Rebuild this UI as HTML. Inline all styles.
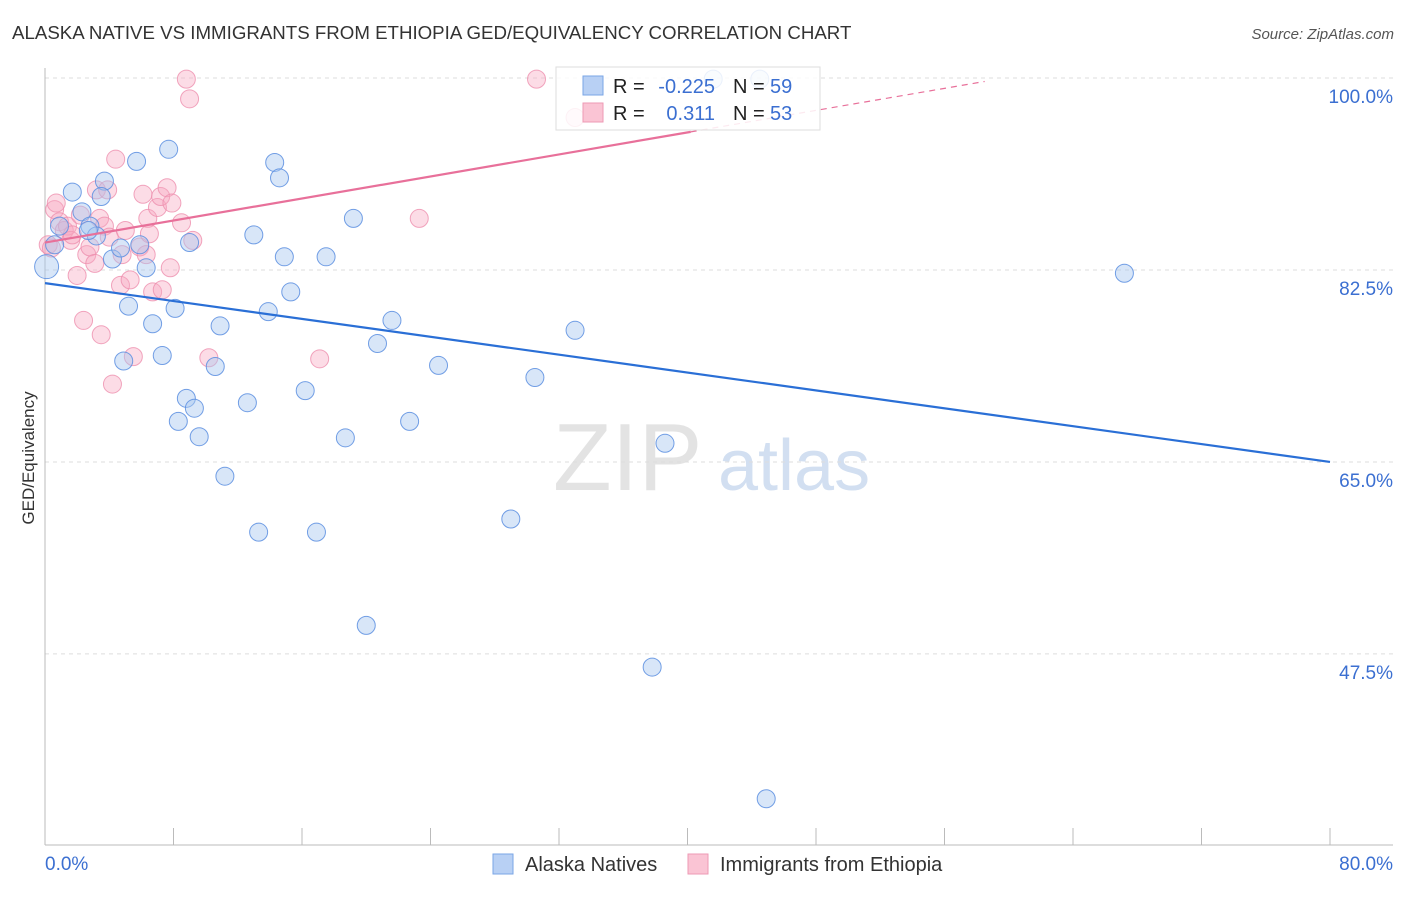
<!DOCTYPE html>
<html><head><meta charset="utf-8"><style>
body{margin:0;background:#fff;font-family:"Liberation Sans",sans-serif;}
svg text{font-family:"Liberation Sans",sans-serif;}
</style></head><body>
<svg id="chart" width="1406" height="892" xmlns="http://www.w3.org/2000/svg">
<text x="12" y="39" font-size="18.7" fill="#333">ALASKA NATIVE VS IMMIGRANTS FROM ETHIOPIA GED/EQUIVALENCY CORRELATION CHART</text>
<text x="1394" y="39" font-size="15" fill="#555" font-style="italic" text-anchor="end">Source: ZipAtlas.com</text>
<text transform="translate(34,458) rotate(-90)" font-size="17" fill="#333" text-anchor="middle">GED/Equivalency</text>
<g>
<text x="553" y="490" font-size="96" fill="#ddd" font-family="Liberation Serif" opacity="0.8">ZIP</text>
<text x="718" y="490" font-size="72" fill="#c8d8ee" opacity="0.8">atlas</text>
</g>
<g id="grid"></g><g id="axes"></g><g id="pts"></g><g id="trend"></g>
<g>
<rect x="556" y="67" width="264" height="63" fill="#fff" fill-opacity="0.85" stroke="#ddd"/>
<rect x="583" y="76" width="20" height="19" fill="#b8d0f4" stroke="#7aa6e6"/>
<rect x="583" y="103" width="20" height="19" fill="#fac4d4" stroke="#ee9ab4"/>
<text x="613" y="93" font-size="20" fill="#222">R = </text><text x="715" y="93" font-size="20" fill="#3b6fd1" text-anchor="end">-0.225</text>
<text x="733" y="93" font-size="20" fill="#222">N = </text><text x="770" y="93" font-size="20" fill="#3b6fd1">59</text>
<text x="613" y="120" font-size="20" fill="#222">R = </text><text x="715" y="120" font-size="20" fill="#3b6fd1" text-anchor="end">0.311</text>
<text x="733" y="120" font-size="20" fill="#222">N = </text><text x="770" y="120" font-size="20" fill="#3b6fd1">53</text>
</g>
<g>
<rect x="493" y="854" width="20" height="20" fill="#b8d0f4" stroke="#7aa6e6"/>
<text x="525" y="871" font-size="20" fill="#333">Alaska Natives</text>
<rect x="688" y="854" width="20" height="20" fill="#fac4d4" stroke="#ee9ab4"/>
<text x="720" y="871" font-size="20" fill="#333">Immigrants from Ethiopia</text>
</g>
</svg>
<script>
const blueX=[0.1,0.6,1.7,0.9,2.3,2.8,3.2,3.7,3.5,2.7,4.2,4.7,4.9,5.2,5.7,5.9,6.3,6.7,7.3,7.7,8.1,8.3,8.8,9.0,9.3,9.6,10.6,10.9,11.2,12.6,13.0,13.3,13.9,14.3,14.6,14.9,15.3,16.2,16.9,17.5,18.7,19.2,20.0,20.7,21.6,22.7,24.5,29.0,30.5,33.0,37.8,38.6,41.6,44.5,44.9,67.2];
const blueY=[82.8,84.8,89.6,86.5,87.8,86.5,85.6,90.6,89.2,86.1,83.5,84.5,74.2,79.2,92.4,84.8,82.7,77.6,74.7,93.5,79.0,68.7,70.8,85.0,69.9,67.3,73.7,77.4,63.7,70.4,85.7,58.6,78.7,92.3,90.9,83.7,80.5,71.5,58.6,83.7,67.2,87.2,50.1,75.8,77.9,68.7,73.8,59.8,72.7,77.0,46.3,66.7,99.9,99.9,34.3,82.2];
const pinkX=[0.2,0.4,0.6,0.7,0.9,1.2,1.4,1.6,1.7,2.0,2.2,2.4,2.6,2.8,3.1,3.2,3.4,3.5,3.7,3.9,4.0,4.2,4.4,4.7,4.8,5.0,5.3,5.5,5.9,6.1,6.3,6.4,6.5,6.7,7.0,7.2,7.3,7.6,7.8,7.9,8.5,8.8,9.0,9.2,10.2,17.1,23.3,30.6,33.0];
const pinkY=[84.8,84.5,88.0,88.6,86.9,86.1,86.5,85.2,85.7,82.0,87.5,77.9,83.9,84.6,83.1,89.8,87.2,76.6,86.5,89.8,85.5,72.1,92.6,81.1,83.9,86.1,81.6,74.6,84.6,89.4,83.9,87.2,85.8,80.5,88.2,89.2,80.7,90.0,82.7,88.6,86.8,99.9,98.1,85.2,74.5,74.4,87.2,99.9,96.4];
const blueTrend=[81.3,65.0];
const pinkTrend=[85.0,0.251];
const yTicks=[100,82.5,65,47.5];
const yTickLabels=["100.0%","82.5%","65.0%","47.5%"];
const NS="http://www.w3.org/2000/svg";
function sx(v){return 45+v/80*1285;}
function sy(v){return 78+(100-v)*10.97;}
function mk(t,a,p){const e=document.createElementNS(NS,t);for(const k in a)e.setAttribute(k,a[k]);p.appendChild(e);return e;}
const grid=document.getElementById('grid'),axes=document.getElementById('axes');
yTicks.forEach((v,i)=>{
 const l=mk('line',{x1:45,x2:1393,y1:sy(v),y2:sy(v),stroke:'#ddd','stroke-dasharray':'4,4'},grid);
 
 
 const t=mk('text',{x:1393,y:sy(v)+25,'font-size':19,fill:'#3b6fd1','text-anchor':'end'},axes);
 t.textContent=yTickLabels[i];
 
 
});
let a=mk('line',{x1:45,x2:45,y1:68,y2:845,stroke:'#bbb'},axes);


a=mk('line',{x1:45,x2:1393,y1:845,y2:845,stroke:'#bbb'},axes);


for(let i=0;i<=10;i++){const x=sx(i*8);const t=mk('line',{x1:x,x2:x,y1:828,y2:845,stroke:'#bbb'},axes);
 
 }
let xl=mk('text',{x:45,y:870,'font-size':19,fill:'#3b6fd1'},axes);xl.textContent='0.0%';


xl=mk('text',{x:1393,y:870,'font-size':19,fill:'#3b6fd1','text-anchor':'end'},axes);xl.textContent='80.0%';


const pts=document.getElementById('pts');
pinkX.forEach((x,i)=>{const c=mk('circle',{cx:sx(x),cy:sy(pinkY[i]),r:9,fill:'#f7a8c0','fill-opacity':0.4,stroke:'#ee8fae','stroke-opacity':0.8},pts);
 
 });
blueX.forEach((x,i)=>{const c=mk('circle',{cx:sx(x),cy:sy(blueY[i]),r:i==0?12:9,fill:'#a8c8f0','fill-opacity':0.45,stroke:'#5b8ee0','stroke-opacity':0.85},pts);
 
 });
const tr=document.getElementById('trend');
let l=mk('line',{x1:sx(0),y1:sy(blueTrend[0]),x2:sx(80),y2:sy(blueTrend[1]),stroke:'#2a6fd6','stroke-width':2.2},tr);


l=mk('line',{x1:sx(0),y1:sy(pinkTrend[0]),x2:sx(40.2),y2:sy(pinkTrend[0]+pinkTrend[1]*40.2),stroke:'#e8709a','stroke-width':2.2},tr);


l=mk('line',{x1:sx(40.2),y1:sy(pinkTrend[0]+pinkTrend[1]*40.2),x2:sx(58.5),y2:sy(pinkTrend[0]+pinkTrend[1]*58.5),stroke:'#e8709a','stroke-width':1.2,'stroke-dasharray':'6,5'},tr);


</script>
</body></html>
